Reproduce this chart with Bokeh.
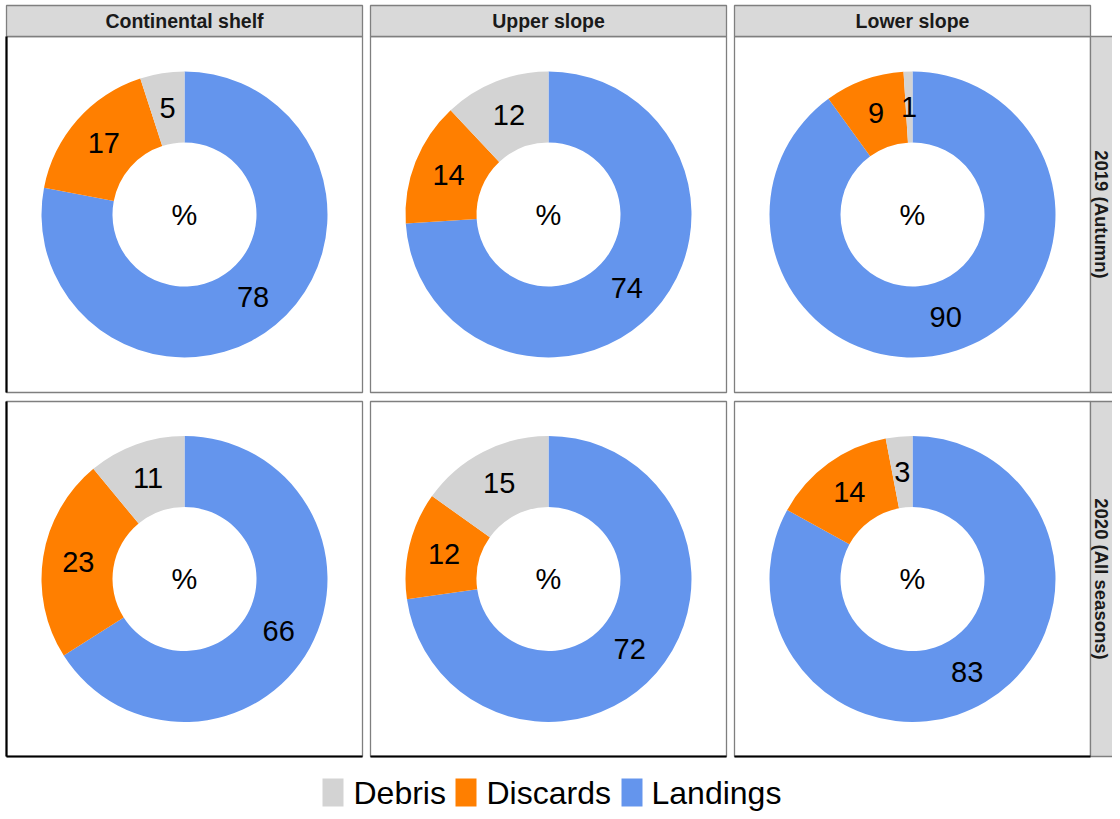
import math
from bokeh.plotting import figure
from bokeh.models import ColumnDataSource, Range1d
from bokeh.core.properties import value
from bokeh.embed import file_html
from bokeh.resources import INLINE

# ---------------- data ----------------
zones = ["Continental shelf", "Upper slope", "Lower slope"]
periods = ["2019 (Autumn)", "2020 (All seasons)"]
categories = ["Landings", "Discards", "Debris"]          # clockwise from 12 o'clock
legend_labels = ["Debris", "Discards", "Landings"]
colors = {"Debris": "#D3D3D3", "Discards": "#FF7F00", "Landings": "#6495ED"}

landings_2019 = [78, 74, 90]
discards_2019 = [17, 14, 9]
debris_2019 = [5, 12, 1]
landings_2020 = [66, 72, 83]
discards_2020 = [23, 12, 14]
debris_2020 = [11, 15, 3]

values_by_period = [
    {"Landings": landings_2019, "Discards": discards_2019, "Debris": debris_2019},
    {"Landings": landings_2020, "Discards": discards_2020, "Debris": debris_2020},
]

# ---------------- layout (picture pixels, origin top-left) ----------------
W, H = 1112, 811
def X(px):
    return px
def Y(py):
    return H - py

PAN_X = [(6, 362), (370, 726), (734, 1090)]
PAN_Y = [(36, 392), (401, 756)]
STRIP_TOP = 5
STRIP_RIGHT = W
R_OUT, R_IN = 143, 72
R_LAB = (R_OUT + R_IN) / 2

p = figure(width=W, height=H, x_range=Range1d(0, W), y_range=Range1d(0, H),
           output_backend="svg", toolbar_location=None, min_border=0)
p.axis.visible = False
p.grid.visible = False
p.outline_line_color = None
p.background_fill_color = "white"
p.border_fill_color = "white"

wedge = dict(x=[], y=[], s=[], e=[], c=[])
lab = dict(x=[], y=[], t=[])
cen = dict(x=[], y=[])

for r, period in enumerate(periods):
    y0, y1 = PAN_Y[r]
    cy = Y((y0 + y1) / 2)
    for c, zone in enumerate(zones):
        x0, x1 = PAN_X[c]
        cx = X((x0 + x1) / 2)
        vals = [values_by_period[r][k][c] for k in categories]
        total = sum(vals)
        cum = 0.0
        for k, v in zip(categories, vals):
            f0 = cum / total
            cum += v
            f1 = cum / total
            wedge["x"].append(cx)
            wedge["y"].append(cy)
            wedge["s"].append(math.radians(90 - 360 * f1))
            wedge["e"].append(math.radians(90 - 360 * f0))
            wedge["c"].append(colors[k])
            mid = math.radians(90 - 360 * (f0 + f1) / 2)
            lab["x"].append(cx + R_LAB * math.cos(mid))
            lab["y"].append(cy + R_LAB * math.sin(mid))
            lab["t"].append(str(v))
        cen["x"].append(cx)
        cen["y"].append(cy)

# panel frames
for r in range(2):
    y0, y1 = PAN_Y[r]
    for c in range(3):
        x0, x1 = PAN_X[c]
        p.quad(left=X(x0), right=X(x1), top=Y(y0), bottom=Y(y1),
               fill_color="white", line_color="#7F7F7F", line_width=1.3)

# strips (top)
for c, zone in enumerate(zones):
    x0, x1 = PAN_X[c]
    p.quad(left=X(x0), right=X(x1), top=Y(STRIP_TOP), bottom=Y(PAN_Y[0][0]),
           fill_color="#D9D9D9", line_color="#7F7F7F", line_width=1.3)
    p.text(x=[X((x0 + x1) / 2)], y=[Y((STRIP_TOP + PAN_Y[0][0]) / 2)], text=[zone],
           text_font=value("Liberation Sans"), text_font_style="bold",
           text_font_size="19.5px", text_color="#1A1A1A",
           text_align="center", text_baseline="middle")

# strips (right)
for r, period in enumerate(periods):
    y0, y1 = PAN_Y[r]
    p.quad(left=X(PAN_X[2][1]), right=X(STRIP_RIGHT) + 2, top=Y(y0), bottom=Y(y1),
           fill_color="#D9D9D9", line_color="#7F7F7F", line_width=1.3)
    p.text(x=[X((PAN_X[2][1] + STRIP_RIGHT) / 2)], y=[Y((y0 + y1) / 2)], text=[period],
           angle=-math.pi / 2,
           text_font=value("Liberation Sans"), text_font_style="bold",
           text_font_size="18.5px", text_color="#1A1A1A",
           text_align="center", text_baseline="middle")

# donuts
p.annular_wedge(x="x", y="y", inner_radius=R_IN, outer_radius=R_OUT,
                start_angle="s", end_angle="e", fill_color="c", line_color=None,
                source=ColumnDataSource(wedge))
p.text(x="x", y="y", text="t", source=ColumnDataSource(lab),
       text_font=value("Liberation Sans"), text_font_size="29px", text_color="black",
       text_align="center", text_baseline="middle")
p.text(x="x", y="y", text=value("%"), source=ColumnDataSource(cen),
       text_font=value("Liberation Sans"), text_font_size="29px", text_color="black",
       text_align="center", text_baseline="middle")

# axis lines (left column, bottom row)
for r in range(2):
    y0, y1 = PAN_Y[r]
    p.segment(x0=X(PAN_X[0][0]), y0=Y(y0), x1=X(PAN_X[0][0]), y1=Y(y1),
              line_color="black", line_width=2.2)
for c in range(3):
    x0, x1 = PAN_X[c]
    p.segment(x0=X(x0), y0=Y(PAN_Y[1][1]), x1=X(x1), y1=Y(PAN_Y[1][1]),
              line_color="black", line_width=2.2)

# legend
key_x = [322, 455, 621]
text_x = [353, 486, 651]
for lbl, kx, tx in zip(legend_labels, key_x, text_x):
    p.quad(left=X(kx), right=X(kx + 21), top=Y(778), bottom=Y(806),
           fill_color=colors[lbl], line_color=None)
    p.text(x=[X(tx)], y=[Y(792)], text=[lbl],
           text_font=value("Liberation Sans"), text_font_size="32px", text_color="black",
           text_align="left", text_baseline="middle")

open("out.html", "w").write(file_html(p, INLINE))
